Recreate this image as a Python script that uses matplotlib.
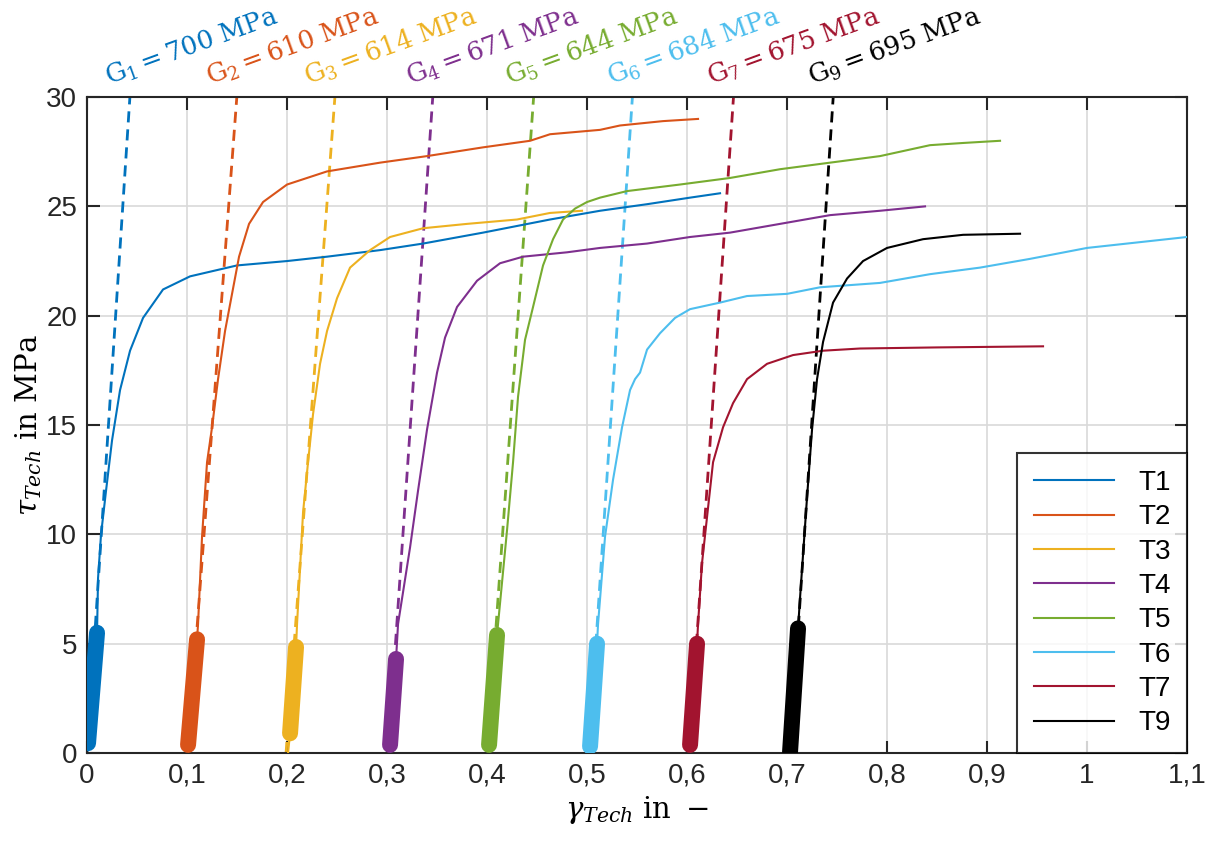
import numpy as np
import matplotlib
matplotlib.use("Agg")
from matplotlib import pyplot as plt

# test curves (gamma in -, tau in MPa)
t1_gamma = [0.001, 0.010, 0.011, 0.014, 0.019, 0.025, 0.033, 0.043, 0.056, 0.076, 0.103, 0.150, 0.200,
            0.240, 0.293, 0.336, 0.396, 0.463, 0.513, 0.560, 0.603, 0.633]
t1_tau = [0.45, 5.5, 8.0, 10.0, 12.0, 14.3, 16.6, 18.4, 19.9, 21.2, 21.8, 22.3, 22.5,
          22.7, 23.0, 23.3, 23.8, 24.4, 24.8, 25.1, 25.4, 25.6]

t2_gamma = [0.101, 0.110, 0.111, 0.115, 0.120, 0.125, 0.131, 0.138, 0.145, 0.152, 0.162, 0.176, 0.200, 0.240,
            0.293, 0.340, 0.396, 0.443, 0.463, 0.513, 0.533, 0.576, 0.611]
t2_tau = [0.37, 5.2, 5.9, 9.9, 13.3, 14.9, 17.1, 19.3, 21.0, 22.7, 24.2, 25.2, 26.0, 26.6,
          27.0, 27.3, 27.7, 28.0, 28.3, 28.5, 28.7, 28.9, 29.0]

t3_gamma = [0.201, 0.203, 0.209, 0.210, 0.216, 0.221, 0.226, 0.233, 0.240, 0.250, 0.263, 0.283, 0.303,
            0.336, 0.380, 0.430, 0.463, 0.495]
t3_tau = [0.0, 0.9, 4.85, 5.9, 11.0, 13.3, 15.5, 17.8, 19.3, 20.8, 22.2, 23.0, 23.6,
          24.0, 24.2, 24.4, 24.7, 24.8]

t4_gamma = [0.303, 0.309, 0.311, 0.323, 0.331, 0.340, 0.350, 0.358, 0.370, 0.390, 0.413, 0.436, 0.480,
            0.513, 0.560, 0.603, 0.643, 0.693, 0.743, 0.793, 0.838]
t4_tau = [0.37, 4.3, 5.9, 9.4, 12.0, 14.8, 17.4, 19.0, 20.4, 21.6, 22.4, 22.7, 22.9,
          23.1, 23.3, 23.6, 23.8, 24.2, 24.6, 24.8, 25.0]

t5_gamma = [0.402, 0.410, 0.411, 0.420, 0.426, 0.431, 0.438, 0.446, 0.456, 0.466, 0.476, 0.488, 0.500, 0.513,
            0.540, 0.593, 0.643, 0.693, 0.743, 0.793, 0.843, 0.876, 0.913]
t5_tau = [0.37, 5.4, 5.9, 10.2, 13.3, 16.3, 18.9, 20.4, 22.3, 23.5, 24.4, 24.9, 25.2, 25.4,
          25.7, 26.0, 26.3, 26.7, 27.0, 27.3, 27.8, 27.9, 28.0]

t6_gamma = [0.503, 0.510, 0.511, 0.518, 0.526, 0.535, 0.543, 0.548, 0.553, 0.560, 0.573, 0.588, 0.603, 0.633,
            0.660, 0.700, 0.733, 0.793, 0.843, 0.893, 0.943, 1.000, 1.050, 1.100, 1.120]
t6_tau = [0.3, 5.0, 5.9, 9.9, 12.5, 14.9, 16.6, 17.1, 17.4, 18.45, 19.2, 19.9, 20.3, 20.6,
          20.9, 21.0, 21.3, 21.5, 21.9, 22.2, 22.6, 23.1, 23.35, 23.6, 23.7]

t7_gamma = [0.603, 0.610, 0.611, 0.615, 0.620, 0.626, 0.636, 0.646, 0.660, 0.680, 0.706, 0.736, 0.773,
            0.850, 0.956]
t7_tau = [0.37, 5.0, 5.9, 8.7, 10.8, 13.3, 14.9, 16.0, 17.1, 17.8, 18.2, 18.4, 18.5,
          18.55, 18.6]

t9_gamma = [0.703, 0.711, 0.713, 0.720, 0.725, 0.730, 0.736, 0.746, 0.760, 0.776, 0.800, 0.836, 0.876, 0.933]
t9_tau = [0.05, 5.7, 7.1, 11.7, 14.8, 17.1, 18.8, 20.6, 21.7, 22.5, 23.1, 23.5, 23.7, 23.75]

names = ['T1', 'T2', 'T3', 'T4', 'T5', 'T6', 'T7', 'T9']
g_index = ['1', '2', '3', '4', '5', '6', '7', '9']
shear_modulus = [700, 610, 614, 671, 644, 684, 675, 695]      # MPa
gamma_offset = [0.0, 0.1006, 0.199, 0.301, 0.40, 0.5015, 0.602, 0.703]
fit_lo = [0.45, 0.37, 0.9, 0.37, 0.37, 0.3, 0.37, 0.05]
fit_hi = [5.5, 5.2, 4.85, 4.3, 5.4, 5.0, 5.0, 5.7]

colors = ['#0072BD', '#D95319', '#EDB120', '#7E2F8E', '#77AC30', '#4DBEEE', '#A2142F', '#000000']

curves = [(t1_gamma, t1_tau), (t2_gamma, t2_tau), (t3_gamma, t3_tau), (t4_gamma, t4_tau),
          (t5_gamma, t5_tau), (t6_gamma, t6_tau), (t7_gamma, t7_tau), (t9_gamma, t9_tau)]

plt.rcParams['mathtext.fontset'] = 'dejavuserif'
plt.rcParams['font.family'] = ['Liberation Sans', 'DejaVu Sans']

fig = plt.figure(figsize=(12.14, 8.44), dpi=100)
ax = fig.add_axes([0.0717, 0.1078, 0.9061, 0.7772])

handles = []
for i, (g, t) in enumerate(curves):
    g = np.asarray(g)
    t = np.asarray(t)
    c = colors[i]
    h, = ax.plot(g, t, color=c, lw=1.5, label=names[i], zorder=3)
    handles.append(h)
    # fitted linear region
    m = (t >= fit_lo[i] - 1e-9) & (t <= fit_hi[i] + 1e-9)
    ax.plot(g[m], t[m], color=c, lw=11.5, solid_capstyle='round', zorder=4)
    # shear modulus line
    tt = np.array([0.0, 31.0])
    ax.plot(gamma_offset[i] + tt / shear_modulus[i], tt, color=c, lw=2.0,
            ls=(0, (4, 2.5)), zorder=2)
    ax.text(gamma_offset[i] + 0.022, 30.55,
            r'$\mathrm{G}_{%s} = %d\ \mathrm{MPa}$' % (g_index[i], shear_modulus[i]),
            color=c, fontsize=18.5, rotation=20, rotation_mode='anchor',
            ha='left', va='baseline', clip_on=False)

ax.set_xlim(0, 1.1)
ax.set_ylim(0, 30)
xt = np.round(np.arange(0, 1.11, 0.1), 1)
ax.set_xticks(xt)
ax.set_xticklabels([('%g' % v).replace('.', ',') for v in xt])
ax.set_yticks(np.arange(0, 31, 5))
ax.tick_params(direction='in', length=9, width=1.5, labelsize=20, top=True, right=True,
               color='#262626', labelcolor='#262626', pad=7)
ax.grid(True, color='#d9d9d9', lw=1.2)
ax.set_axisbelow(True)
for s in ax.spines.values():
    s.set_linewidth(1.5)
    s.set_color('#262626')

ax.set_xlabel(r'$\gamma_{Tech}\ \mathrm{in}\ -$', fontsize=21, labelpad=4)
ax.set_ylabel(r'$\tau_{Tech}\ \mathrm{in\ MPa}$', fontsize=21, labelpad=2)

leg = ax.legend(handles=handles, loc='lower right', fontsize=20, frameon=True, fancybox=False,
                borderaxespad=0, handlelength=2.9, labelspacing=0.3, borderpad=0.6,
                handletextpad=0.85)
leg.get_frame().set_edgecolor('black')
leg.get_frame().set_linewidth(1.5)

fig.savefig('out.png', dpi=100)
